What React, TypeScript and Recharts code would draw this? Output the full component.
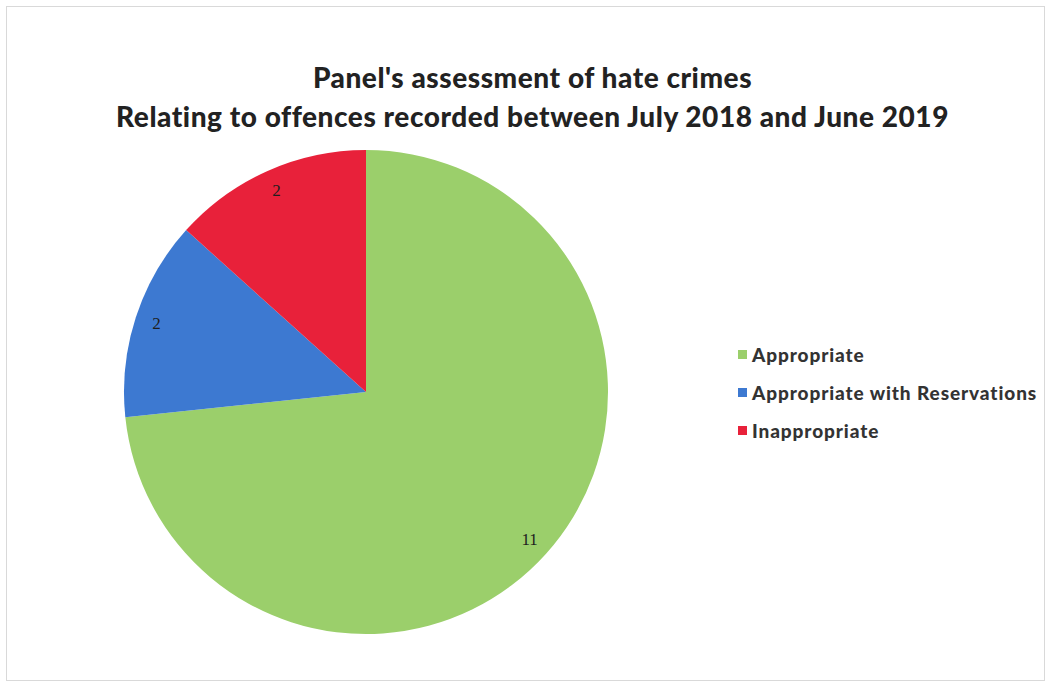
import React from "react";
import { PieChart, Pie, Cell, Legend } from "recharts";

const categories = ["Appropriate", "Appropriate with Reservations", "Inappropriate"];
const counts = [11, 2, 2];
const colors = ["#9BCF6B", "#3D79D1", "#E8213A"];

const titleLines = [
  "Panel's assessment of hate crimes",
  "Relating to offences recorded between July 2018 and June 2019",
];

const data = categories.map((name, i) => ({ name, value: counts[i] }));

const RADIAN = Math.PI / 180;

const renderLabel = (props: any) => {
  const { cx, cy, midAngle, outerRadius, value } = props;
  const r = outerRadius * 0.91;
  const x = cx + r * Math.cos(-midAngle * RADIAN);
  const y = cy + r * Math.sin(-midAngle * RADIAN);
  return (
    <text
      x={x}
      y={y}
      fill="#1e1e1e"
      textAnchor="middle"
      dominantBaseline="central"
      style={{ fontFamily: "'Liberation Serif', serif", fontSize: 17 }}
    >
      {value}
    </text>
  );
};

export default function App() {
  return (
    <div
      style={{
        position: "absolute",
        left: 0,
        top: 0,
        width: 1045,
        height: 686,
        background: "#fff",
        fontFamily: "Lato, sans-serif",
      }}
    >
      <div
        style={{
          position: "absolute",
          left: 6,
          top: 6,
          width: 1039,
          height: 675,
          border: "1px solid #d9d9d9",
          boxSizing: "border-box",
        }}
      />
      <div
        style={{
          position: "absolute",
          left: 0,
          top: 58,
          width: 1065,
          textAlign: "center",
          fontWeight: 900,
          fontSize: 28,
          lineHeight: "39px",
          color: "#222",
          letterSpacing: 0.55,
        }}
      >
        {titleLines.map((t) => (
          <div key={t}>{t}</div>
        ))}
      </div>
      <PieChart
        width={1045}
        height={686}
        margin={{ top: 0, right: 0, bottom: 0, left: 0 }}
        style={{ position: "absolute", left: 0, top: 0 }}
      >
        <Pie
          data={data}
          dataKey="value"
          nameKey="name"
          cx={366}
          cy={392}
          outerRadius={242}
          startAngle={90}
          endAngle={-270}
          stroke="none"
          label={renderLabel}
          labelLine={false}
          isAnimationActive={false}
        >
          {data.map((d, i) => (
            <Cell key={d.name} fill={colors[i]} />
          ))}
        </Pie>
        <Legend
          layout="vertical"
          wrapperStyle={{ position: "absolute", left: 738, top: 335, width: 320 }}
          content={() => (
            <div>
              {data.map((d, i) => (
                <div
                  key={d.name}
                  style={{ display: "flex", alignItems: "center", height: 38 }}
                >
                  <div
                    style={{ width: 9, height: 9, background: colors[i], marginRight: 5 }}
                  />
                  <span
                    style={{
                      fontWeight: 900,
                      fontSize: 19,
                      color: "#333",
                      letterSpacing: 0.9,
                    }}
                  >
                    {d.name}
                  </span>
                </div>
              ))}
            </div>
          )}
        />
      </PieChart>
    </div>
  );
}
